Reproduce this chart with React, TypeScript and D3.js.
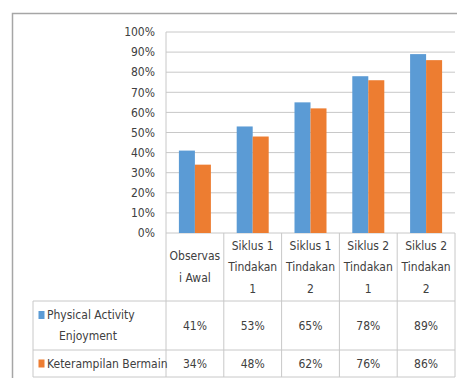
import React from 'react';
import * as d3 from 'd3';

const categories = ['Observasi Awal', 'Siklus 1 Tindakan 1', 'Siklus 1 Tindakan 2', 'Siklus 2 Tindakan 1', 'Siklus 2 Tindakan 2'];
const categoryLines = [
  ['Observas', 'i Awal'],
  ['Siklus 1', 'Tindakan', '1'],
  ['Siklus 1', 'Tindakan', '2'],
  ['Siklus 2', 'Tindakan', '1'],
  ['Siklus 2', 'Tindakan', '2'],
];
const seriesNames = ['Physical Activity Enjoyment', 'Keterampilan Bermain'];
const seriesLabelLines = [['Physical Activity', 'Enjoyment'], ['Keterampilan Bermain']];
const enjoyment = [0.41, 0.53, 0.65, 0.78, 0.89];
const keterampilan = [0.34, 0.48, 0.62, 0.76, 0.86];
const seriesValues = [enjoyment, keterampilan];
const colors = ['#5B9BD5', '#ED7D31'];
const yTicks = [0, 0.1, 0.2, 0.3, 0.4, 0.5, 0.6, 0.7, 0.8, 0.9, 1];

const W = 457;
const H = 378;
const plotLeft = 166;
const plotRight = 455;
const plotTop = 32;
const plotBottom = 233;
const headerBottom = 301;
const row1Bottom = 350;
const row2Bottom = 377;
const tableLeft = 33;
const font = '"DejaVu Sans Condensed", "DejaVu Sans", sans-serif';
const textColor = '#404040';
const gridColor = '#C8C8C8';
const fs = 12;

export default function App() {
  const x = d3.scaleBand<string>().domain(categories).range([plotLeft, plotRight]);
  const bw = x.bandwidth();
  const x1 = d3.scaleBand<string>().domain(seriesNames).range([(bw - 32) / 2, (bw + 32) / 2]);
  const y = d3.scaleLinear().domain([0, 1]).range([plotBottom, plotTop]);
  const pct = d3.format('.0%');
  const rowBounds = [[headerBottom, row1Bottom], [row1Bottom, row2Bottom]];

  return (
    <svg width={W} height={H} style={{ position: 'absolute', left: 0, top: 0 }} fontFamily={font} fontStretch="condensed">
      <rect x={0} y={0} width={W} height={H} fill="#fff" />
      {/* outer frame */}
      <rect x={12.5} y={13.5} width={W} height={H} fill="none" stroke="#A6A6A6" strokeWidth={1.5} />

      {/* grid */}
      {yTicks.map((t) => (
        <line key={t} x1={plotLeft} x2={plotRight} y1={y(t)} y2={y(t)} stroke={gridColor} strokeWidth={1} />
      ))}
      <line x1={plotLeft} x2={plotLeft} y1={plotTop} y2={row2Bottom} stroke={gridColor} />

      {/* y tick labels */}
      {yTicks.map((t) => (
        <text key={t} x={155} y={y(t)} dy="0.35em" textAnchor="end" fontSize={fs} fill={textColor}>
          {pct(t)}
        </text>
      ))}

      {/* bars */}
      {seriesValues.map((vals, si) =>
        vals.map((v, ci) => (
          <rect
            key={`${si}-${ci}`}
            x={(x(categories[ci]) as number) + (x1(seriesNames[si]) as number)}
            y={y(v)}
            width={x1.bandwidth()}
            height={plotBottom - y(v)}
            fill={colors[si]}
          />
        ))
      )}

      {/* table lines */}
      {categories.map((c) => (
        <line key={c} x1={(x(c) as number) + bw} x2={(x(c) as number) + bw} y1={plotBottom} y2={row2Bottom} stroke={gridColor} />
      ))}
      <line x1={tableLeft} x2={plotRight} y1={headerBottom} y2={headerBottom} stroke={gridColor} />
      <line x1={tableLeft} x2={plotRight} y1={row1Bottom} y2={row1Bottom} stroke={gridColor} />
      <line x1={tableLeft} x2={plotRight} y1={row2Bottom} y2={row2Bottom} stroke={gridColor} />
      <line x1={tableLeft} x2={tableLeft} y1={headerBottom} y2={row2Bottom} stroke={gridColor} />

      {/* header labels */}
      {categoryLines.map((lines, ci) => {
        const cx = (x(categories[ci]) as number) + bw / 2;
        const mid = (plotBottom + headerBottom) / 2;
        const lh = 21.5;
        const start = mid - ((lines.length - 1) * lh) / 2;
        return lines.map((l, li) => (
          <text key={`${ci}-${li}`} x={cx} y={start + li * lh} dy="0.35em" textAnchor="middle" fontSize={fs} fill={textColor}>
            {l}
          </text>
        ));
      })}

      {/* legend cells + values */}
      {seriesValues.map((vals, si) => {
        const [r0, r1] = rowBounds[si];
        const mid = (r0 + r1) / 2;
        const lines = seriesLabelLines[si];
        const lh = 21;
        const start = mid - ((lines.length - 1) * lh) / 2;
        return (
          <g key={si}>
            <rect x={38.5} y={start - 4} width={6} height={8} fill={colors[si]} />
            {lines.map((l, li) => (
              <text
                key={li}
                x={li === 0 ? 47 : 88}
                y={start + li * lh}
                dy="0.35em"
                textAnchor={li === 0 ? 'start' : 'middle'}
                fontSize={fs}
                fill={textColor}
              >
                {l}
              </text>
            ))}
            {vals.map((v, ci) => (
              <text
                key={ci}
                x={(x(categories[ci]) as number) + bw / 2}
                y={mid}
                dy="0.35em"
                textAnchor="middle"
                fontSize={fs}
                fill={textColor}
              >
                {pct(v)}
              </text>
            ))}
          </g>
        );
      })}
    </svg>
  );
}
